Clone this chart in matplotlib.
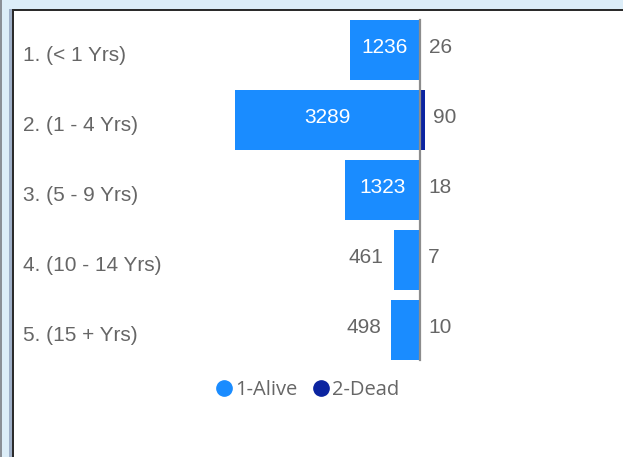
import matplotlib.pyplot as plt
from matplotlib.patches import Rectangle
from matplotlib.lines import Line2D

categories = ['1. (< 1 Yrs)', '2. (1 - 4 Yrs)', '3. (5 - 9 Yrs)',
              '4. (10 - 14 Yrs)', '5. (15 + Yrs)']
alive = [1236, 3289, 1323, 461, 498]
dead = [26, 90, 18, 7, 10]
series = ['1-Alive', '2-Dead']

W, H = 623, 457
fig = plt.figure(figsize=(W / 100, H / 100), dpi=100)
fig.patch.set_facecolor('white')


def px_rect(x, y, w, h, color):
    # pixel box measured from the top-left corner
    fig.patches.append(Rectangle((x / W, 1 - (y + h) / H), w / W, h / H,
                                 transform=fig.transFigure, color=color,
                                 zorder=0, lw=0))


# window frame
px_rect(0, 0, W, 9, '#dcedf8')
px_rect(0, 0, 2, H, '#8a8f96')
px_rect(2, 9, 7, H, '#dcedf8')
px_rect(9, 9, 3, H, '#9fb0c8')
px_rect(12, 9, W, 2, '#2b2b2b')
px_rect(12, 9, 2, H, '#2b2b2b')

# axes mapped so that 0 sits at pixel 419.5 and 1 unit = 0.05625 px
scale = 185 / 3289
x0 = 419.5
ax = fig.add_axes([0, 1 - 365 / H, 1, 350 / H])
ax.set_xlim(-x0 / scale, (W - x0) / scale)
ax.set_ylim(4.5, -0.5)
ax.axis('off')
ax.patch.set_alpha(0)

c_alive = '#1a8cff'
c_dead = '#0b24a0'
ys = list(range(len(categories)))
ax.barh(ys, [-v for v in alive], height=60 / 70, color=c_alive, lw=0)
ax.barh(ys, dead, height=60 / 70, color=c_dead, lw=0)
ax.plot([0, 0], [-0.43, 4.43], color='#8c8c8c', lw=1.6, zorder=3)

font = 'Liberation Sans'
grey = '#666666'
for i, (cat, a, d) in enumerate(zip(categories, alive, dead)):
    ax.text(23 / W, i + 0.08, cat, transform=ax.get_yaxis_transform(),
            ha='left', va='center', fontsize=15, color=grey, family=font)
    if a > 1000:
        ax.text(-a / 2, i - 0.04, str(a), ha='center', va='center',
                fontsize=15, color='white', family=font)
    else:
        ax.annotate(str(a), (-a, i - 0.04), xytext=(-10, 0),
                    textcoords='offset pixels', ha='right', va='center',
                    fontsize=15, color=grey, family=font)
    ax.annotate(str(d), (d, i - 0.04), xytext=(8, 0),
                textcoords='offset pixels', ha='left', va='center',
                fontsize=15, color=grey, family=font)

handles = [Line2D([], [], marker='o', ls='', ms=11, color=c)
           for c in (c_alive, c_dead)]
fig.legend(handles, series, loc='center', ncol=2,
           bbox_to_anchor=(309 / W, 1 - 390 / H), frameon=False,
           handlelength=0.5, handletextpad=0.3, columnspacing=0.9,
           prop={'family': 'Open Sans', 'size': 14.5}, labelcolor=grey)

fig.savefig('out.png', dpi=100)
